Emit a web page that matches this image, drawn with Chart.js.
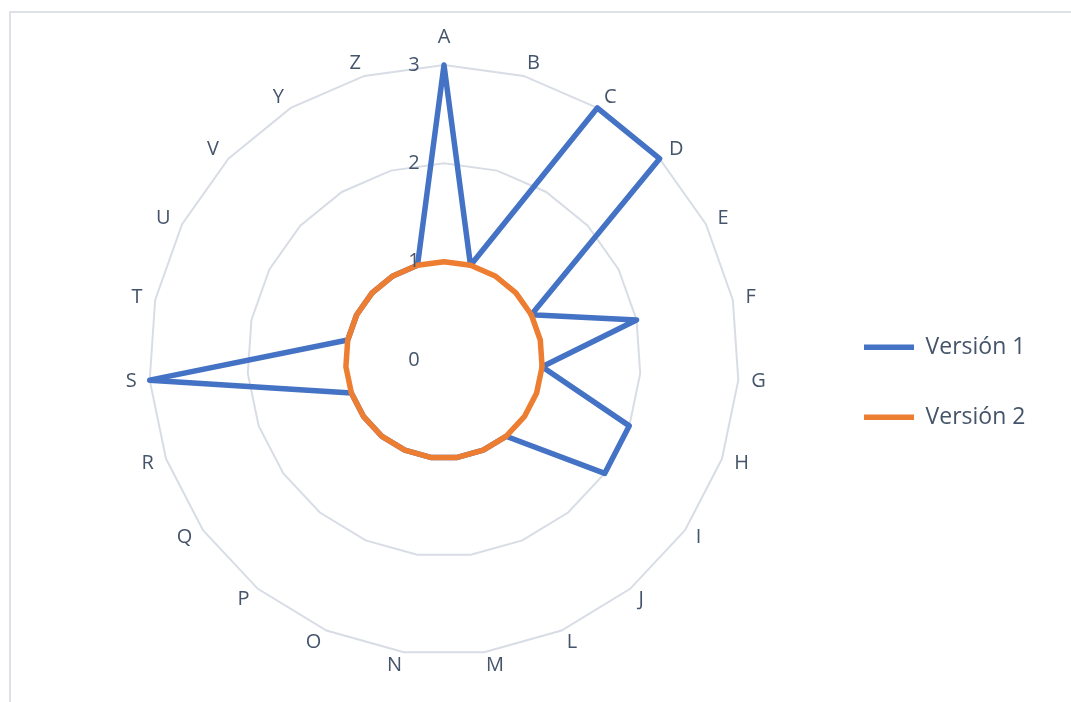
<!DOCTYPE html>
<html lang="es">
<head>
    <meta charset="UTF-8">
    <title>Radar - Versiones</title>
    <script src="https://cdn.jsdelivr.net/npm/chart.js"></script>
    <style>
        html, body { margin: 0; padding: 0; background: #fff; overflow: hidden; }
        .frame {
            position: absolute; left: 9px; top: 11px;
            width: 1100px; height: 720px;
            border: 2px solid #dee2e8;
        }
        #radar { position: absolute; left: 0; top: 0; }
    </style>
</head>
<body>
    <div class="frame"></div>
    <canvas id="radar" width="1071" height="702"></canvas>

    <script>
        // categorias (sin K, W, X)
        const categories = ['A', 'B', 'C', 'D', 'E', 'F', 'G', 'H', 'I', 'J', 'L', 'M',
                            'N', 'O', 'P', 'Q', 'R', 'S', 'T', 'U', 'V', 'Y', 'Z'];
        const version1 = [3, 1, 3, 3, 1, 2, 1, 2, 2, 1, 1, 1, 1, 1, 1, 1, 1, 3, 1, 1, 1, 1, 1];
        const version2 = [1, 1, 1, 1, 1, 1, 1, 1, 1, 1, 1, 1, 1, 1, 1, 1, 1, 1, 1, 1, 1, 1, 1];
        const seriesNames = ['Versión 1', 'Versión 2'];
        const axisMin = 0;
        const axisMax = 3;

        const textColor = '#44546A';
        const fontFamily = '"Open Sans", sans-serif';

        // etiquetas de categoria: alineadas a izq/der segun el lado, como en Excel
        const categoryLabels = {
            id: 'categoryLabels',
            afterDraw(chart) {
                const scale = chart.scales.r;
                const ctx = chart.ctx;
                ctx.save();
                ctx.font = '20px ' + fontFamily;
                ctx.fillStyle = textColor;
                ctx.textBaseline = 'middle';
                scale._pointLabels.forEach((label, i) => {
                    const s = Math.sin(scale.getIndexAngle(i));
                    const gap = i === 0 ? 28 : 13;
                    const p = scale.getPointPosition(i, scale.drawingArea + gap);
                    ctx.textAlign = Math.abs(s) < 0.01 ? 'center' : (s > 0 ? 'left' : 'right');
                    ctx.fillText(label, p.x, p.y);
                });
                ctx.restore();
            }
        };

        // valores del eje a la izquierda del eje vertical
        const axisTicks = {
            id: 'axisTicks',
            afterDatasetsDraw(chart) {
                const scale = chart.scales.r;
                const ctx = chart.ctx;
                ctx.save();
                ctx.font = '20px ' + fontFamily;
                ctx.fillStyle = textColor;
                ctx.textAlign = 'center';
                ctx.textBaseline = 'middle';
                scale.ticks.forEach(t => {
                    const y = scale.yCenter - scale.getDistanceFromCenterForValue(t.value);
                    ctx.fillText(String(t.value), scale.xCenter - 30, y);
                });
                ctx.restore();
            }
        };

        const ctx = document.getElementById('radar').getContext('2d');
        new Chart(ctx, {
            type: 'radar',
            data: {
                labels: categories,
                datasets: [{
                    label: seriesNames[0],
                    data: version1,
                    borderColor: '#4472C4',
                    backgroundColor: '#4472C4',
                    borderWidth: 5.5,
                    borderJoinStyle: 'round',
                    borderCapStyle: 'round',
                    pointRadius: 0,
                    fill: false,
                    order: 1
                }, {
                    label: seriesNames[1],
                    data: version2,
                    borderColor: '#ED7D31',
                    backgroundColor: '#ED7D31',
                    borderWidth: 5.5,
                    borderJoinStyle: 'round',
                    borderCapStyle: 'round',
                    pointRadius: 0,
                    fill: false,
                    order: 0
                }]
            },
            options: {
                responsive: false,
                animation: false,
                layout: {
                    padding: { left: 71, right: 44, top: 65, bottom: 47 }
                },
                scales: {
                    r: {
                        min: axisMin,
                        max: axisMax,
                        ticks: { stepSize: 1, display: false },
                        grid: { color: '#d8dde5', lineWidth: 2 },
                        angleLines: { display: false },
                        pointLabels: { display: false }
                    }
                },
                plugins: {
                    legend: {
                        position: 'right',
                        maxWidth: 210,
                        title: { display: true, text: '', padding: { top: 30, bottom: 0 } },
                        labels: {
                            usePointStyle: true,
                            pointStyle: 'line',
                            pointStyleWidth: 50,
                            padding: 47,
                            color: textColor,
                            font: { family: fontFamily, size: 23 },
                            sort: (a, b) => a.datasetIndex - b.datasetIndex
                        }
                    },
                    tooltip: { enabled: false }
                }
            },
            plugins: [categoryLabels, axisTicks]
        });
    </script>
</body>
</html>
